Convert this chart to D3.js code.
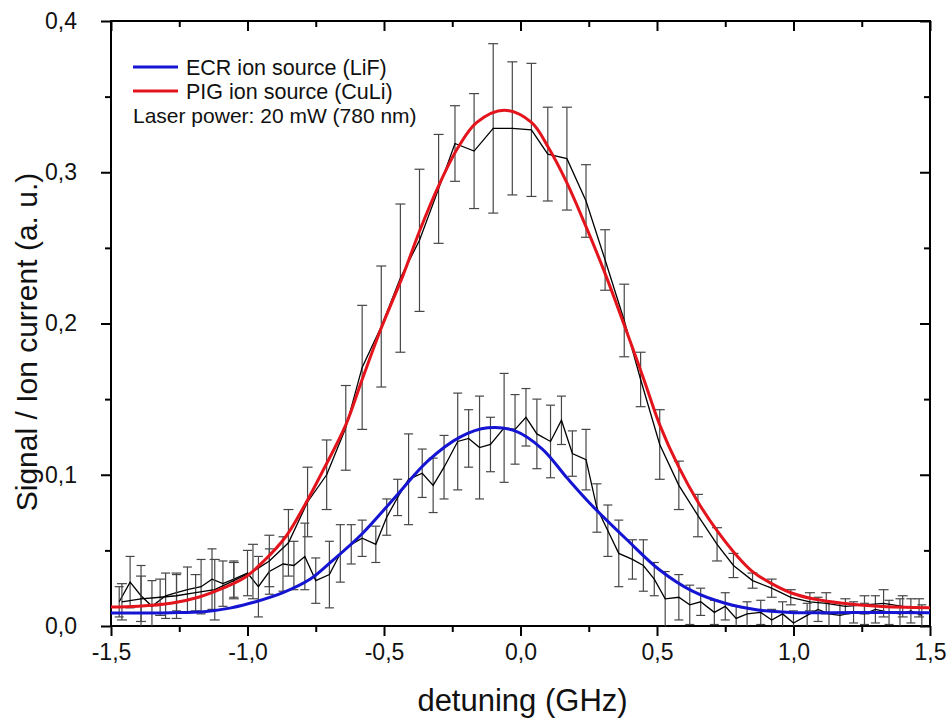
<!DOCTYPE html>
<html>
<head>
<meta charset="utf-8">
<script src="https://cdnjs.cloudflare.com/ajax/libs/d3/7.8.5/d3.min.js"></script>
<style>
body { margin: 0; background: #fff; }
text { font-family: Arial, "Liberation Sans", sans-serif; }
</style>
</head>
<body>
<div id="chart"></div>
<script>

// PIG ion source (CuLi) measurement
var pigX = [-1.46, -1.39, -1.32, -1.26, -1.19, -1.12, -1.05, -0.98, -0.92, -0.85, -0.78, -0.71,
            -0.64, -0.58, -0.51, -0.44, -0.37, -0.30, -0.24, -0.17, -0.10, -0.03, 0.04, 0.10,
            0.17, 0.24, 0.31, 0.38, 0.44, 0.51, 0.58, 0.65, 0.72, 0.78, 0.85, 0.92,
            0.99, 1.06, 1.12, 1.19, 1.26, 1.33, 1.40, 1.46];
var pigY = [0.016, 0.018, 0.019, 0.020, 0.022, 0.024, 0.030, 0.036, 0.043, 0.055, 0.082, 0.100,
            0.131, 0.171, 0.198, 0.230, 0.255, 0.289, 0.319, 0.314, 0.329, 0.329, 0.328, 0.312,
            0.309, 0.281, 0.242, 0.202, 0.163, 0.120, 0.093, 0.073, 0.054, 0.040, 0.030, 0.025,
            0.019, 0.016, 0.015, 0.013, 0.014, 0.015, 0.013, 0.012];
var pigErr = [0.012, 0.015, 0.012, 0.015, 0.012, 0.020, 0.012, 0.018, 0.017, 0.022, 0.023, 0.023,
              0.028, 0.041, 0.040, 0.049, 0.047, 0.036, 0.025, 0.038, 0.056, 0.044, 0.044, 0.031,
              0.034, 0.024, 0.020, 0.024, 0.018, 0.023, 0.016, 0.014, 0.011, 0.008, 0.005, 0.006,
              0.005, 0.006, 0.007, 0.005, 0.006, 0.009, 0.007, 0.006];

// ECR ion source (LiF) measurement
var ecrX = [-1.47, -1.43, -1.39, -1.35, -1.30, -1.26, -1.22, -1.17, -1.13, -1.09, -1.05, -1.00,
            -0.96, -0.92, -0.87, -0.83, -0.79, -0.75, -0.70, -0.66, -0.62, -0.58, -0.53, -0.49,
            -0.45, -0.41, -0.36, -0.32, -0.28, -0.23, -0.19, -0.15, -0.11, -0.06, -0.02, 0.02,
            0.06, 0.11, 0.15, 0.19, 0.24, 0.28, 0.32, 0.36, 0.41, 0.45, 0.49, 0.53,
            0.58, 0.62, 0.66, 0.71, 0.75, 0.79, 0.83, 0.88, 0.92, 0.96, 1.00, 1.05,
            1.09, 1.13, 1.17, 1.22, 1.26, 1.30, 1.35, 1.39, 1.43, 1.47];
var ecrY = [0.016, 0.029, 0.020, 0.013, 0.020, 0.022, 0.024, 0.026, 0.031, 0.028, 0.031, 0.035,
            0.026, 0.036, 0.041, 0.040, 0.046, 0.030, 0.034, 0.048, 0.054, 0.058, 0.054, 0.072,
            0.085, 0.097, 0.101, 0.093, 0.105, 0.122, 0.124, 0.118, 0.120, 0.131, 0.130, 0.138,
            0.127, 0.122, 0.136, 0.114, 0.110, 0.078, 0.063, 0.048, 0.044, 0.040, 0.031, 0.018,
            0.019, 0.014, 0.016, 0.009, 0.013, 0.005, 0.008, 0.009, 0.004, 0.008, 0.002, 0.007,
            0.011, 0.008, 0.007, 0.009, 0.008, 0.011, 0.009, 0.008, 0.010, 0.007];
var ecrErr = [0.010, 0.017, 0.020, 0.017, 0.015, 0.012, 0.015, 0.018, 0.020, 0.015, 0.012, 0.015,
              0.020, 0.015, 0.018, 0.016, 0.022, 0.015, 0.022, 0.019, 0.013, 0.012, 0.012, 0.012,
              0.012, 0.030, 0.016, 0.018, 0.021, 0.032, 0.019, 0.034, 0.018, 0.036, 0.023, 0.019,
              0.023, 0.024, 0.016, 0.015, 0.020, 0.016, 0.017, 0.022, 0.013, 0.017, 0.011, 0.018,
              0.015, 0.013, 0.009, 0.008, 0.009, 0.008, 0.008, 0.008, 0.007, 0.008, 0.008, 0.008,
              0.008, 0.008, 0.008, 0.007, 0.007, 0.009, 0.008, 0.010, 0.008, 0.007];

// fit curves
var pigFitX = [-1.50, -1.40, -1.28, -1.18, -1.09, -1.01, -0.94, -0.86, -0.79, -0.72, -0.64, -0.58,
               -0.51, -0.43, -0.37, -0.30, -0.23, -0.16, -0.06, 0.04, 0.10, 0.17, 0.24, 0.31,
               0.38, 0.45, 0.51, 0.58, 0.65, 0.72, 0.79, 0.85, 0.92, 0.99, 1.07, 1.18, 1.31, 1.50];
var pigFitY = [0.0125, 0.013, 0.015, 0.019, 0.025, 0.032, 0.043, 0.059, 0.080, 0.104, 0.133, 0.163,
               0.197, 0.232, 0.261, 0.291, 0.316, 0.333, 0.341, 0.333, 0.317, 0.293, 0.264, 0.233,
               0.199, 0.164, 0.133, 0.105, 0.082, 0.063, 0.047, 0.036, 0.028, 0.022, 0.018, 0.015, 0.013, 0.012];
var ecrFitX = [-1.50, -1.28, -1.16, -1.06, -0.97, -0.87, -0.77, -0.69, -0.58, -0.46, -0.34, -0.22,
               -0.12, -0.02, 0.08, 0.17, 0.26, 0.39, 0.51, 0.63, 0.75, 0.87, 0.99, 1.23, 1.50];
var ecrFitY = [0.0086, 0.0088, 0.0095, 0.012, 0.016, 0.022, 0.031, 0.043, 0.061, 0.085, 0.109, 0.125,
               0.131, 0.129, 0.117, 0.098, 0.080, 0.057, 0.037, 0.023, 0.015, 0.0106, 0.009, 0.0089, 0.0088];

var xTicks = [-1.5, -1.0, -0.5, 0.0, 0.5, 1.0, 1.5];
var xMinor = [-1.25, -0.75, -0.25, 0.25, 0.75, 1.25];
var yTicks = [0.0, 0.1, 0.2, 0.3, 0.4];
var yMinor = [0.05, 0.15, 0.25, 0.35];
var legendNames = ['ECR ion source (LiF)', 'PIG ion source (CuLi)'];
var legendColors = ['#1414d2', '#e3141c'];
var noteText = 'Laser power: 20 mW (780 nm)';

var margin = {top: 21, right: 19, bottom: 93, left: 111},
    width = 949 - margin.left - margin.right,
    height = 719 - margin.top - margin.bottom;

var svg = d3.select('#chart').append('svg')
    .attr('width', 949)
    .attr('height', 719);

var g = svg.append('g')
    .attr('transform', 'translate(' + margin.left + ',' + margin.top + ')');

var x = d3.scaleLinear().domain([-1.5, 1.5]).range([0, width]);
var y = d3.scaleLinear().domain([0, 0.4]).range([height, 0]);

var loc = d3.formatLocale({decimal: ',', thousands: '.', grouping: [3], currency: ['', ''], minus: '-'});
var fmt = loc.format('.1f');

// axes: outward ticks bottom/left, inward mirror ticks top/right
g.append('g').attr('class', 'xaxis')
    .attr('transform', 'translate(0,' + height + ')')
    .call(d3.axisBottom(x).tickValues(xTicks).tickSize(10).tickPadding(8).tickFormat(fmt));
g.append('g').attr('class', 'minor')
    .attr('transform', 'translate(0,' + height + ')')
    .call(d3.axisBottom(x).tickValues(xMinor).tickSize(6).tickFormat(''));
g.append('g').attr('class', 'yaxis')
    .call(d3.axisLeft(y).tickValues(yTicks).tickSize(10).tickPadding(24).tickFormat(fmt));
g.append('g').attr('class', 'minor')
    .call(d3.axisLeft(y).tickValues(yMinor).tickSize(6).tickFormat(''));
// top: axisBottom at y=0 points down (inward)
g.append('g').attr('class', 'minor')
    .call(d3.axisBottom(x).tickValues(xTicks).tickSize(10).tickFormat(''));
g.append('g').attr('class', 'minor')
    .call(d3.axisBottom(x).tickValues(xMinor).tickSize(6).tickFormat(''));
// right: axisLeft at x=width points left (inward)
g.append('g').attr('class', 'minor')
    .attr('transform', 'translate(' + width + ',0)')
    .call(d3.axisLeft(y).tickValues(yTicks).tickSize(10).tickFormat(''));
g.append('g').attr('class', 'minor')
    .attr('transform', 'translate(' + width + ',0)')
    .call(d3.axisLeft(y).tickValues(yMinor).tickSize(6).tickFormat(''));

g.selectAll('.domain').remove();
g.selectAll('.tick line').attr('stroke', '#000').attr('stroke-width', 2);
g.selectAll('.xaxis text, .yaxis text')
    .style('font-size', '23px')
    .attr('fill', '#111');

g.append('rect')
    .attr('width', width)
    .attr('height', height)
    .attr('fill', 'none')
    .attr('stroke', '#000')
    .attr('stroke-width', 2);

function drawSeries(xs, ys, es, cap) {
    var pts = xs.map(function(v, i) { return {x: v, y: ys[i], e: es[i]}; });
    var eb = g.append('g').selectAll('g').data(pts).enter().append('g')
        .attr('stroke', '#474747').attr('stroke-width', 1.2);
    eb.append('line')
        .attr('x1', function(d) { return x(d.x); })
        .attr('x2', function(d) { return x(d.x); })
        .attr('y1', function(d) { return y(Math.max(0, d.y - d.e)); })
        .attr('y2', function(d) { return y(d.y + d.e); });
    eb.append('line')
        .attr('x1', function(d) { return x(d.x) - cap; })
        .attr('x2', function(d) { return x(d.x) + cap; })
        .attr('y1', function(d) { return y(d.y + d.e); })
        .attr('y2', function(d) { return y(d.y + d.e); });
    eb.filter(function(d) { return d.y - d.e > 0; }).append('line')
        .attr('x1', function(d) { return x(d.x) - cap; })
        .attr('x2', function(d) { return x(d.x) + cap; })
        .attr('y1', function(d) { return y(d.y - d.e); })
        .attr('y2', function(d) { return y(d.y - d.e); });

    g.append('path')
        .datum(pts)
        .attr('fill', 'none')
        .attr('stroke', '#000')
        .attr('stroke-width', 1.3)
        .attr('d', d3.line()
            .x(function(d) { return x(d.x); })
            .y(function(d) { return y(d.y); }));
}

drawSeries(ecrX, ecrY, ecrErr, 4.5);
drawSeries(pigX, pigY, pigErr, 5);

function drawFit(xs, ys, color) {
    var pts = xs.map(function(v, i) { return [v, ys[i]]; });
    g.append('path')
        .datum(pts)
        .attr('fill', 'none')
        .attr('stroke', color)
        .attr('stroke-width', 3)
        .attr('d', d3.line()
            .curve(d3.curveCatmullRom.alpha(0.5))
            .x(function(d) { return x(d[0]); })
            .y(function(d) { return y(d[1]); }));
}

drawFit(ecrFitX, ecrFitY, legendColors[0]);
drawFit(pigFitX, pigFitY, legendColors[1]);

// legend
var legend = svg.append('g');
legendNames.forEach(function(name, i) {
    legend.append('line')
        .attr('x1', 133).attr('x2', 178)
        .attr('y1', 67 + i * 24).attr('y2', 67 + i * 24)
        .attr('stroke', legendColors[i])
        .attr('stroke-width', 3);
    legend.append('text')
        .attr('x', 186).attr('y', 74.5 + i * 24)
        .style('font-size', '21.5px')
        .attr('fill', '#111')
        .text(name);
});
legend.append('text')
    .attr('x', 133).attr('y', 122.5)
    .style('font-size', '21px')
    .attr('fill', '#111')
    .text(noteText);

// axis titles
svg.append('text')
    .attr('x', margin.left + width / 2 + 2)
    .attr('y', 711)
    .attr('text-anchor', 'middle')
    .style('font-size', '31px')
    .attr('fill', '#111')
    .text('detuning (GHz)');

svg.append('text')
    .attr('transform', 'translate(37,342) rotate(-90)')
    .attr('text-anchor', 'middle')
    .style('font-size', '30px')
    .attr('fill', '#111')
    .text('Signal / Ion current (a. u.)');

</script>
</body>
</html>
